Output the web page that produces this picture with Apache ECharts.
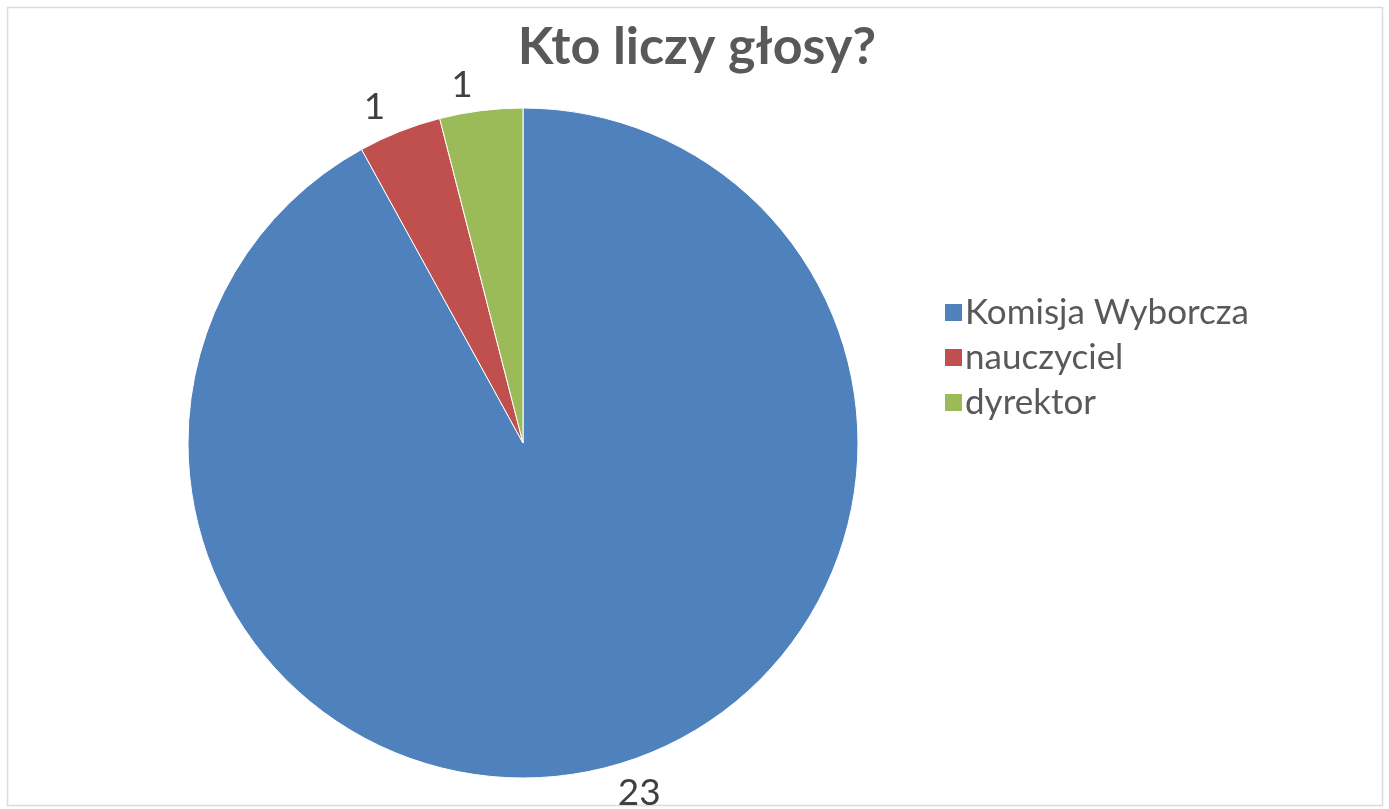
<!DOCTYPE html>
<html>
<head>
<meta charset="utf-8">
<script src="https://cdn.jsdelivr.net/npm/echarts@6/dist/echarts.min.js"></script>
<style>
  html, body { margin: 0; padding: 0; background: #fff; }
  #chart { width: 1389px; height: 809px; }
</style>
</head>
<body>
<div id="chart"></div>
<script>
var titleText = 'Kto liczy głosy?';
var categories = ['Komisja Wyborcza', 'nauczyciel', 'dyrektor'];
var votes = [23, 1, 1];
var colors = ['#4F81BD', '#C0504D', '#9BBB59'];

var pieData = categories.map(function (name, i) {
  return { name: name, value: votes[i], itemStyle: { color: colors[i] } };
});

var chart = echarts.init(document.getElementById('chart'));
chart.setOption({
  animation: false,
  backgroundColor: '#fff',
  graphic: [{
    type: 'rect',
    shape: { x: 7.5, y: 7.5, width: 1375, height: 798 },
    style: { fill: 'none', stroke: '#dcdcdc', lineWidth: 1.5 },
    silent: true
  }],
  title: {
    text: titleText,
    left: 692,
    top: 16,
    textAlign: 'center',
    textStyle: { fontFamily: 'Lato', fontWeight: 'bold', fontSize: 52, color: '#595959' }
  },
  legend: {
    orient: 'vertical',
    left: 938,
    top: 290,
    icon: 'rect',
    itemWidth: 19,
    itemHeight: 19,
    itemGap: 10,
    data: categories,
    textStyle: { fontFamily: 'Lato', fontSize: 35, color: '#595959', padding: [0, 0, 0, -3] }
  },
  series: [{
    type: 'pie',
    center: [523, 443],
    radius: [0, 335],
    startAngle: 90,
    clockwise: true,
    avoidLabelOverlap: false,
    itemStyle: { borderColor: '#fff', borderWidth: 1 },
    label: {
      show: true,
      position: 'outside',
      formatter: '{c}',
      fontFamily: 'Lato',
      fontSize: 37,
      color: '#404040'
    },
    labelLine: { show: false, length: 26, length2: 0 },
    data: pieData
  }]
});
</script>
</body>
</html>
